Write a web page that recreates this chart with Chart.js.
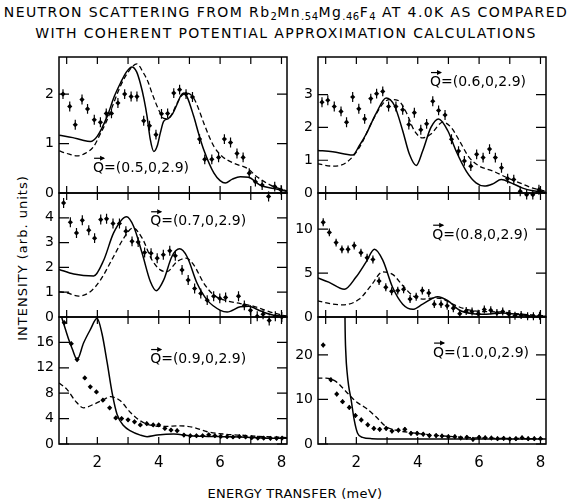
<!DOCTYPE html>
<html>
<head>
<meta charset="utf-8">
<script src="https://cdn.jsdelivr.net/npm/chart.js@4.4.1/dist/chart.umd.min.js"></script>
<style>
  body { margin: 0; background: #fff; width: 572px; height: 504px; position: relative; overflow: hidden;
         font-family: "DejaVu Sans", sans-serif; color: #000; }
  .title { position: absolute; left: 0; width: 572px; text-align: center; font-size: 14px; white-space: nowrap;
           letter-spacing: 1.4px; }
  .title sub { font-size: 10px; vertical-align: -3px; line-height: 0; letter-spacing: 0.5px; }
  .ytitle { position: absolute; left: 22px; top: 258px; font-size: 13px; white-space: nowrap; letter-spacing: 1px;
            transform: translate(-50%, -50%) rotate(-90deg); }
  .xtitle { position: absolute; left: 295px; top: 493px; font-size: 13px; white-space: nowrap; letter-spacing: 0.3px;
            transform: translate(-50%, -50%); }
  canvas { position: absolute; }
</style>
</head>
<body>
<div class="title" style="top:4px">NEUTRON SCATTERING FROM Rb<sub>2</sub>Mn<sub>.54</sub>Mg<sub>.46</sub>F<sub>4</sub> AT 4.0K AS COMPARED</div>
<div class="title" style="top:25px">WITH COHERENT POTENTIAL APPROXIMATION CALCULATIONS</div>
<div class="ytitle">INTENSITY (arb. units)</div>
<div class="xtitle">ENERGY TRANSFER (meV)</div>

<canvas id="c05"></canvas>
<canvas id="c06"></canvas>
<canvas id="c07"></canvas>
<canvas id="c08"></canvas>
<canvas id="c09"></canvas>
<canvas id="c10"></canvas>

<script>
// energy axis
const xMin = 0.75, xMax = 8.18;
const xTickLabels = [2, 4, 6, 8];
const xTickMarks = [1, 2, 3, 4, 5, 6, 7, 8];

// Q = (0.5,0,2.9)
const yTicks05 = [0, 1, 2];
const solid05 = [[0.76,1.17],[1.2,1.12],[1.5,1.07],[1.77,1.04],[2.0,1.15],[2.32,1.55],[2.55,1.95],[2.75,2.22],[2.95,2.45],[3.13,2.55],[3.28,2.45],[3.4,2.22],[3.52,1.9],[3.62,1.55],[3.72,1.1],[3.84,0.84],[3.95,0.95],[4.05,1.21],[4.16,1.45],[4.3,1.5],[4.45,1.6],[4.6,1.8],[4.72,1.97],[4.82,2.02],[4.92,1.95],[5.14,1.55],[5.3,1.2],[5.47,0.87],[5.8,0.4],[6.0,0.25],[6.17,0.2],[6.4,0.28],[6.66,0.33],[6.93,0.32],[7.3,0.16],[7.75,0.09],[8.18,0.03]];
const dashed05 = [[0.76,0.85],[1.0,0.8],[1.34,0.75],[1.6,0.8],[1.88,0.94],[2.1,1.2],[2.32,1.48],[2.55,1.85],[2.75,2.16],[3.02,2.46],[3.29,2.61],[3.5,2.43],[3.65,2.25],[3.78,2.02],[4.0,1.68],[4.16,1.51],[4.3,1.5],[4.45,1.62],[4.6,1.82],[4.75,1.97],[4.92,2.02],[5.14,1.92],[5.3,1.7],[5.47,1.41],[5.8,0.94],[6.07,0.74],[6.45,0.6],[6.88,0.5],[7.2,0.33],[7.64,0.16],[8.18,0.04]];
const pts05 = [[0.88,2.0],[1.1,1.75],[1.28,1.38],[1.5,1.89],[1.68,1.7],[1.9,1.48],[2.1,1.43],[2.29,1.61],[2.46,1.61],[2.67,1.82],[2.89,2.0],[3.1,1.95],[3.29,1.95],[3.51,1.46],[3.7,1.36],[3.91,1.18],[4.09,1.6],[4.29,1.61],[4.49,2.02],[4.68,2.09],[4.89,2.0],[5.1,1.94],[5.33,1.09],[5.5,0.68],[5.73,0.68],[5.95,0.72],[6.14,1.09],[6.34,1.02],[6.55,0.8],[6.75,0.72],[6.95,0.4],[7.15,0.23],[7.37,0.16],[7.58,-0.07],[7.78,0.13],[7.99,0.06]];

// Q = (0.6,0,2.9)
const yTicks06 = [0, 1, 2, 3];
const solid06 = [[0.73,1.3],[1.23,1.26],[1.88,1.16],[2.1,1.45],[2.32,1.8],[2.64,2.42],[2.97,2.9],[3.24,2.67],[3.51,1.9],[3.73,1.18],[3.95,0.84],[4.16,1.28],[4.43,2.0],[4.68,2.26],[4.98,1.9],[5.25,1.28],[5.58,0.67],[5.9,0.31],[6.17,0.21],[6.45,0.28],[6.72,0.41],[7.04,0.31],[7.42,0.15],[7.75,0.07],[8.2,0.02]];
const dashed06 = [[0.73,0.89],[1.23,0.82],[1.66,0.92],[2.1,1.39],[2.53,2.21],[2.86,2.72],[3.08,2.85],[3.35,2.83],[3.62,2.47],[3.89,1.9],[4.16,1.68],[4.43,1.8],[4.82,2.16],[5.09,2.0],[5.36,1.59],[5.68,1.08],[6.01,0.82],[6.45,0.67],[6.88,0.48],[7.32,0.31],[7.75,0.15],[8.2,0.05]];
const pts06 = [[0.88,2.77],[1.07,2.83],[1.28,2.64],[1.5,2.49],[1.68,2.16],[1.88,2.93],[2.08,2.57],[2.27,2.26],[2.47,2.88],[2.66,3.03],[2.86,3.1],[3.05,2.64],[3.29,2.64],[3.51,2.54],[3.71,2.09],[3.89,2.45],[4.1,1.93],[4.29,2.11],[4.49,2.8],[4.68,2.52],[4.89,2.38],[5.1,1.64],[5.33,1.28],[5.52,0.98],[5.73,0.82],[5.92,1.18],[6.13,1.08],[6.34,1.34],[6.53,1.08],[6.73,0.77],[6.93,0.44],[7.13,0.41],[7.34,0.05],[7.55,-0.05],[7.75,-0.05],[7.95,0.1]];

// Q = (0.7,0,2.9)
const yTicks07 = [0, 1, 2, 3, 4];
const solid07 = [[0.75,1.92],[1.23,1.73],[1.88,1.65],[2.21,2.3],[2.53,3.39],[2.95,4.04],[3.18,3.66],[3.46,2.57],[3.73,1.42],[3.92,1.06],[4.16,1.49],[4.43,2.44],[4.68,2.75],[4.92,2.44],[5.25,1.36],[5.58,0.68],[6.01,0.27],[6.23,0.2],[6.66,0.41],[6.93,0.43],[7.32,0.24],[7.75,0.07],[8.18,0.03]];
const dashed07 = [[0.75,1.02],[1.0,0.98],[1.39,0.84],[1.77,1.02],[2.1,1.49],[2.53,2.44],[2.86,3.18],[3.16,3.59],[3.46,3.18],[3.78,2.3],[4.05,1.9],[4.27,1.83],[4.6,2.24],[4.89,2.37],[5.14,2.1],[5.47,1.36],[5.8,0.88],[6.23,0.65],[6.66,0.54],[7.1,0.43],[7.64,0.2],[8.18,0.03]];
const pts07 = [[0.9,4.6],[1.12,3.82],[1.32,3.39],[1.51,3.9],[1.72,3.5],[1.91,3.18],[2.11,3.93],[2.3,3.96],[2.51,3.77],[2.72,3.77],[2.93,3.46],[3.13,3.05],[3.33,3.02],[3.54,2.6],[3.75,2.57],[3.95,2.37],[4.15,2.51],[4.36,2.67],[4.54,2.47],[4.76,1.9],[4.96,1.49],[5.17,1.15],[5.37,0.95],[5.58,0.68],[5.79,0.84],[5.99,0.75],[6.18,0.79],[6.6,0.84],[6.79,0.47],[6.99,0.27],[7.21,0.03],[7.4,0.11],[7.6,-0.14],[7.8,0.03],[8.01,0.0]];

// Q = (0.8,0,2.9)
const yTicks08 = [0, 5, 10];
const solid08 = [[0.73,4.46],[1.1,3.96],[1.61,3.15],[1.99,4.54],[2.32,6.27],[2.59,7.69],[2.86,6.46],[3.18,3.38],[3.51,1.46],[3.84,0.88],[4.16,1.46],[4.65,2.31],[4.98,1.85],[5.36,0.77],[5.8,0.38],[6.23,0.31],[6.77,0.46],[7.21,0.31],[7.75,0.12],[8.2,0.08]];
const dashed08 = [[0.73,1.85],[1.23,1.46],[1.55,1.38],[2.1,2.04],[2.48,3.58],[2.86,5.12],[3.18,4.85],[3.51,3.58],[3.84,2.42],[4.16,2.04],[4.49,2.15],[4.82,2.04],[5.14,1.46],[5.58,0.88],[6.12,0.62],[6.66,0.58],[7.21,0.38],[7.75,0.23],[8.2,0.12]];
const pts08 = [[0.92,10.77],[1.12,9.62],[1.34,8.46],[1.53,7.69],[1.73,7.69],[1.93,8.12],[2.15,7.31],[2.35,6.73],[2.54,6.54],[2.74,4.08],[2.96,3.38],[3.15,2.92],[3.35,3.0],[3.54,3.15],[3.75,2.04],[3.95,2.31],[4.15,3.0],[4.36,2.73],[4.54,1.46],[4.76,1.46],[4.96,1.27],[5.16,1.0],[5.37,0.38],[5.58,0.69],[5.77,0.62],[5.97,0.38],[6.17,0.85],[6.38,0.77],[6.58,0.46],[6.77,0.62],[6.97,0.31],[7.17,0.15],[7.37,0.23],[7.58,0.08],[7.77,0.08],[7.97,0.15]];

// Q = (0.9,0,2.9)
const yTicks09 = [0, 4, 8, 12, 16];
const solid09 = [[0.8,20.5],[0.88,19.3],[1.07,16.4],[1.18,15.0],[1.34,13.3],[1.55,15.9],[1.77,18.0],[1.99,19.8],[2.15,17.4],[2.32,12.8],[2.48,8.1],[2.64,4.7],[2.86,2.86],[3.08,2.08],[3.4,1.4],[3.62,1.15],[3.95,1.4],[4.49,1.56],[5.03,1.3],[5.58,1.2],[6.12,1.15],[6.66,1.1],[7.21,1.0],[7.75,0.9],[8.18,0.9]];
const dashed09 = [[0.75,9.6],[1.01,8.6],[1.28,6.8],[1.55,5.7],[1.88,6.25],[2.21,7.0],[2.42,7.45],[2.75,6.8],[3.08,4.95],[3.4,3.65],[3.73,2.97],[4.16,2.76],[4.71,2.86],[5.14,2.6],[5.58,1.93],[6.12,1.56],[6.66,1.4],[7.21,1.2],[7.75,1.1],[8.18,1.0]];
const pts09 = [[0.92,19.1],[1.15,15.8],[1.34,13.3],[1.59,10.4],[1.77,9.0],[1.97,8.2],[2.18,6.9],[2.4,5.7],[2.6,4.1],[2.79,4.0],[3.0,3.8],[3.21,3.5],[3.4,3.0],[3.61,3.2],[3.82,3.0],[4.0,3.0],[4.2,2.45],[4.4,2.2],[4.6,2.1],[4.82,1.4],[5.03,1.3],[5.23,1.3],[5.43,1.3],[5.63,1.46],[5.83,1.3],[6.02,1.2],[6.23,1.15],[6.42,1.1],[6.63,1.15],[6.83,1.1],[7.03,1.0],[7.23,0.94],[7.42,0.94],[7.64,0.9],[7.84,0.9],[8.02,0.94]];

// Q = (1.0,0,2.9)
const yTicks10 = [0, 10, 20];
const solid10 = [[1.6,60],[1.63,28],[1.66,20],[1.7,16],[1.75,13],[1.83,9.9],[1.93,5.4],[2.04,2.4],[2.2,1.5],[2.5,1.2],[3.5,1.12],[5.0,1.12],[6.5,1.1],[8.2,1.1]];
const dashed10 = [[0.73,14.8],[1.01,14.8],[1.34,14.0],[1.66,11.8],[1.99,9.5],[2.32,8.0],[2.64,6.1],[2.97,3.9],[3.29,3.1],[3.84,2.5],[4.49,2.0],[5.14,1.65],[5.8,1.4],[6.66,1.27],[8.2,1.2]];
const pts10 = [[0.92,22.2],[1.17,14.4],[1.36,11.2],[1.55,9.5],[1.77,8.2],[1.97,6.4],[2.16,5.4],[2.37,4.3],[2.57,3.5],[2.76,3.3],[2.97,3.5],[3.16,2.9],[3.37,3.1],[3.58,3.3],[3.78,2.4],[3.98,2.4],[4.18,2.2],[4.38,1.9],[4.6,1.9],[4.79,1.8],[5.0,1.65],[5.21,1.65],[5.4,1.35],[5.6,1.5],[5.8,1.05],[6.0,1.5],[6.2,1.4],[6.4,1.35],[6.6,1.2],[6.8,1.27],[7.0,1.12],[7.2,1.2],[7.4,1.4],[7.6,1.2],[7.8,1.2],[8.0,1.2]];

// error bar half-heights, one per panel
const errBars = [0.1, 0.15, 0.2, 0.45, 0.3, 0.5];

Chart.defaults.font.family = "'DejaVu Sans', sans-serif";
Chart.defaults.font.size = 14;
Chart.defaults.color = '#000';

const colLeft = [59, 318], colWidth = 228;
const rowTop = [57, 193, 317], rowHeight = [136, 124, 127];
const PAD = 16;

const panels = [
  { id: 'c05', col: 0, row: 0, yMax: 2.75, yTicks: yTicks05, solid: solid05, dashed: dashed05, pts: pts05, err: errBars[0], label: '(0.5,0,2.9)', lx: 1.86, ly: 0.5 },
  { id: 'c06', col: 1, row: 0, yMax: 4.15, yTicks: yTicks06, solid: solid06, dashed: dashed06, pts: pts06, err: errBars[1], label: '(0.6,0,2.9)', lx: 4.4, ly: 3.37 },
  { id: 'c07', col: 0, row: 1, yMax: 5.0, yTicks: yTicks07, solid: solid07, dashed: dashed07, pts: pts07, err: errBars[2], label: '(0.7,0,2.9)', lx: 3.72, ly: 3.84 },
  { id: 'c08', col: 1, row: 1, yMax: 14.1, yTicks: yTicks08, solid: solid08, dashed: dashed08, pts: pts08, err: errBars[3], label: '(0.8,0,2.9)', lx: 4.47, ly: 9.3 },
  { id: 'c09', col: 0, row: 2, yMax: 20, yTicks: yTicks09, solid: solid09, dashed: dashed09, pts: pts09, err: errBars[4], label: '(0.9,0,2.9)', lx: 3.72, ly: 13.3 },
  { id: 'c10', col: 1, row: 2, yMax: 28.5, yTicks: yTicks10, solid: solid10, dashed: dashed10, pts: pts10, err: errBars[5], label: '(1.0,0,2.9)', lx: 4.5, ly: 20.4 }
];

// frame, inward ticks, error bars and Q label
const framePlugin = {
  id: 'frame',
  afterDatasetsDraw(chart, args, o) {
    const { ctx, chartArea: a } = chart;
    const x = chart.scales.x, y = chart.scales.y;
    ctx.save();
    ctx.strokeStyle = '#000';
    ctx.lineWidth = 1.5;
    ctx.strokeRect(a.left, a.top, a.right - a.left, a.bottom - a.top);
    ctx.lineWidth = 1.2;
    ctx.beginPath();
    xTickMarks.forEach(v => {
      const px = x.getPixelForValue(v);
      ctx.moveTo(px, a.top); ctx.lineTo(px, a.top + 7);
      ctx.moveTo(px, a.bottom); ctx.lineTo(px, a.bottom - 7);
    });
    o.yTicks.forEach(v => {
      const py = y.getPixelForValue(v);
      ctx.moveTo(a.left, py); ctx.lineTo(a.left + 10, py);
      ctx.moveTo(a.right, py); ctx.lineTo(a.right - 10, py);
    });
    ctx.stroke();

    ctx.lineWidth = 1.2;
    ctx.beginPath();
    o.pts.forEach(p => {
      const px = x.getPixelForValue(p[0]);
      ctx.moveTo(px, y.getPixelForValue(p[1] - o.err));
      ctx.lineTo(px, y.getPixelForValue(p[1] + o.err));
    });
    ctx.stroke();

    // Q with arrow above
    const lx = x.getPixelForValue(o.lx), ly = y.getPixelForValue(o.ly);
    ctx.font = "14px 'DejaVu Sans', sans-serif";
    ctx.fillStyle = '#000';
    ctx.textBaseline = 'middle';
    ctx.textAlign = 'left';
    const qw = ctx.measureText('Q').width;
    ctx.fillText('Q', lx, ly);
    ctx.fillText('=' + o.label, lx + qw, ly);
    const ay = ly - 10;
    ctx.lineWidth = 1.2;
    ctx.beginPath();
    ctx.moveTo(lx + 1, ay); ctx.lineTo(lx + qw, ay);
    ctx.stroke();
    ctx.beginPath();
    ctx.moveTo(lx + qw + 1, ay); ctx.lineTo(lx + qw - 4, ay - 2.5); ctx.lineTo(lx + qw - 4, ay + 2.5);
    ctx.closePath(); ctx.fill();
    ctx.restore();
  }
};

panels.forEach(p => {
  const bottomRow = p.row === 2;
  const L = colLeft[p.col], T = rowTop[p.row], W = colWidth, H = rowHeight[p.row];
  const cv = document.getElementById(p.id);
  const w = W + 55, h = H + 2 * PAD + (bottomRow ? 28 : 0);
  cv.width = w; cv.height = h;
  cv.style.left = (L - 45) + 'px';
  cv.style.top = (T - PAD) + 'px';
  cv.style.width = w + 'px';
  cv.style.height = h + 'px';

  const toXY = arr => arr.map(d => ({ x: d[0], y: d[1] }));

  new Chart(cv, {
    type: 'scatter',
    data: {
      datasets: [
        { data: toXY(p.solid), showLine: true, borderColor: '#000', borderWidth: 1.5, pointRadius: 0,
          cubicInterpolationMode: 'monotone', clip: 0 },
        { data: toXY(p.dashed), showLine: true, borderColor: '#000', borderWidth: 1.3, borderDash: [5, 3],
          pointRadius: 0, cubicInterpolationMode: 'monotone', clip: 0 },
        { data: toXY(p.pts), showLine: false, pointStyle: 'rectRot', pointRadius: 2.6,
          backgroundColor: '#000', borderColor: '#000', borderWidth: 0, clip: false }
      ]
    },
    options: {
      responsive: false,
      animation: false,
      events: [],
      layout: { padding: { top: PAD, right: 10, bottom: PAD, left: 0 } },
      plugins: {
        legend: { display: false },
        tooltip: { enabled: false },
        frame: { yTicks: p.yTicks, pts: p.pts, err: p.err, label: p.label, lx: p.lx, ly: p.ly }
      },
      scales: {
        x: {
          type: 'linear', min: xMin, max: xMax,
          display: bottomRow,
          grid: { display: false, drawTicks: false },
          border: { display: false },
          ticks: { padding: 10, font: { size: 15 } },
          afterBuildTicks: s => { s.ticks = xTickLabels.map(v => ({ value: v })); },
          afterFit: s => { s.height = bottomRow ? 28 : 0; }
        },
        y: {
          type: 'linear', min: 0, max: p.yMax,
          grid: { display: false, drawTicks: false },
          border: { display: false },
          ticks: { padding: 5, autoSkip: false, font: { size: 14 } },
          afterBuildTicks: s => { s.ticks = p.yTicks.map(v => ({ value: v })); },
          afterFit: s => { s.width = 45; }
        }
      }
    },
    plugins: [framePlugin]
  });
});
</script>
</body>
</html>
